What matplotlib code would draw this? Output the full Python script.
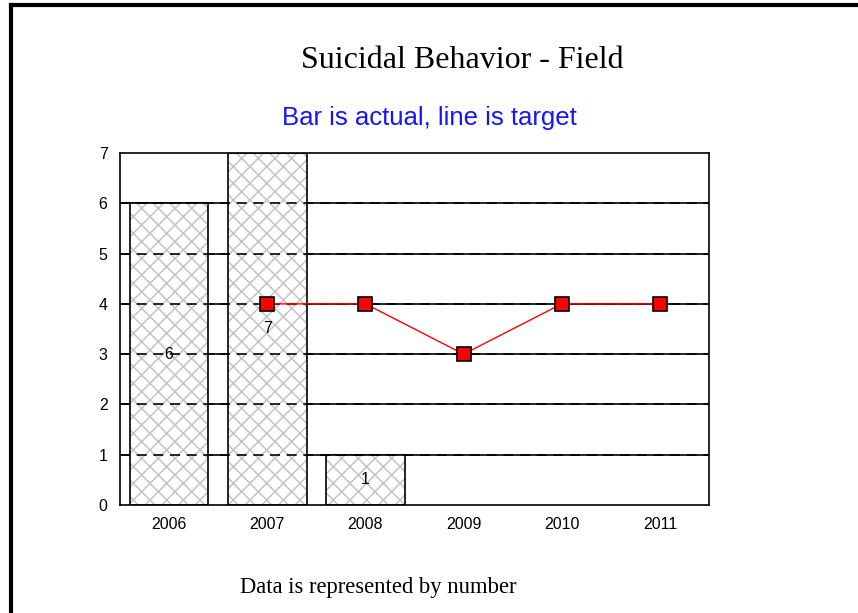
import matplotlib.pyplot as plt
import numpy as np
from matplotlib.lines import Line2D

years = ['2006', '2007', '2008', '2009', '2010', '2011']
actual = [6, 7, 1, np.nan, np.nan, np.nan]
target = [np.nan, 4, 4, 3, 4, 4]
y_ticks = [0, 1, 2, 3, 4, 5, 6, 7]

plt.rcParams['hatch.linewidth'] = 1.1

fig = plt.figure(figsize=(8.58, 6.13), dpi=100)
ax = fig.add_axes([0.1399, 0.1762, 0.6865, 0.5742])

x = np.arange(len(years))
has_bar = ~np.isnan(actual)
vals = np.array(actual)[has_bar]
xb = x[has_bar]

# solid grid behind the bars, dashed grid drawn again on top of them
for y in y_ticks[1:-1]:
    ax.axhline(y, color='black', lw=1.2, zorder=1)

ax.bar(xb, vals, 0.8, color='white', edgecolor='#c4c4c4', hatch='xx',
       linewidth=0, zorder=2)
ax.bar(xb, vals, 0.8, fill=False, edgecolor='black', linewidth=1.2, zorder=3)

for y in y_ticks[1:-1]:
    ax.axhline(y, color='black', lw=1.2, ls=(0, (6, 4)), zorder=2.5)

for xi, v in zip(xb, vals):
    ax.text(xi, v / 2, f'{int(v)}', ha='center', va='center', fontsize=11.5,
            family='Liberation Sans', zorder=4)

ax.plot(x, target, color='red', lw=1, marker='s', markersize=10,
        markerfacecolor='red', markeredgecolor='black', markeredgewidth=1.2,
        zorder=5)

ax.set_xlim(-0.5, len(years) - 0.5)
ax.set_ylim(0, 7)
ax.set_xticks(x)
ax.set_xticklabels(years)
ax.set_yticks(y_ticks)
ax.tick_params(length=0, labelsize=11.5, pad=9)
for lab in ax.get_xticklabels() + ax.get_yticklabels():
    lab.set_family('Liberation Sans')
for s in ax.spines.values():
    s.set_linewidth(1.2)

fig.text(0.539, 0.902, 'Suicidal Behavior - Field', ha='center', va='center',
         fontsize=23, family='Liberation Serif')
fig.text(0.5, 0.807, 'Bar is actual, line is target', ha='center', va='center',
         fontsize=18.5, color='#1414ff', family='Liberation Sans')
fig.text(0.441, 0.041, 'Data is represented by number', ha='center', va='center',
         fontsize=16.3, family='Liberation Serif')

# page frame: top and left edges
fig.add_artist(Line2D([0.0123, 1.0], [0.9918, 0.9918], color='black', lw=3,
                      transform=fig.transFigure))
fig.add_artist(Line2D([0.0123, 0.0123], [0.0, 0.9918], color='black', lw=3,
                      transform=fig.transFigure))

fig.savefig('out.png', dpi=100)
